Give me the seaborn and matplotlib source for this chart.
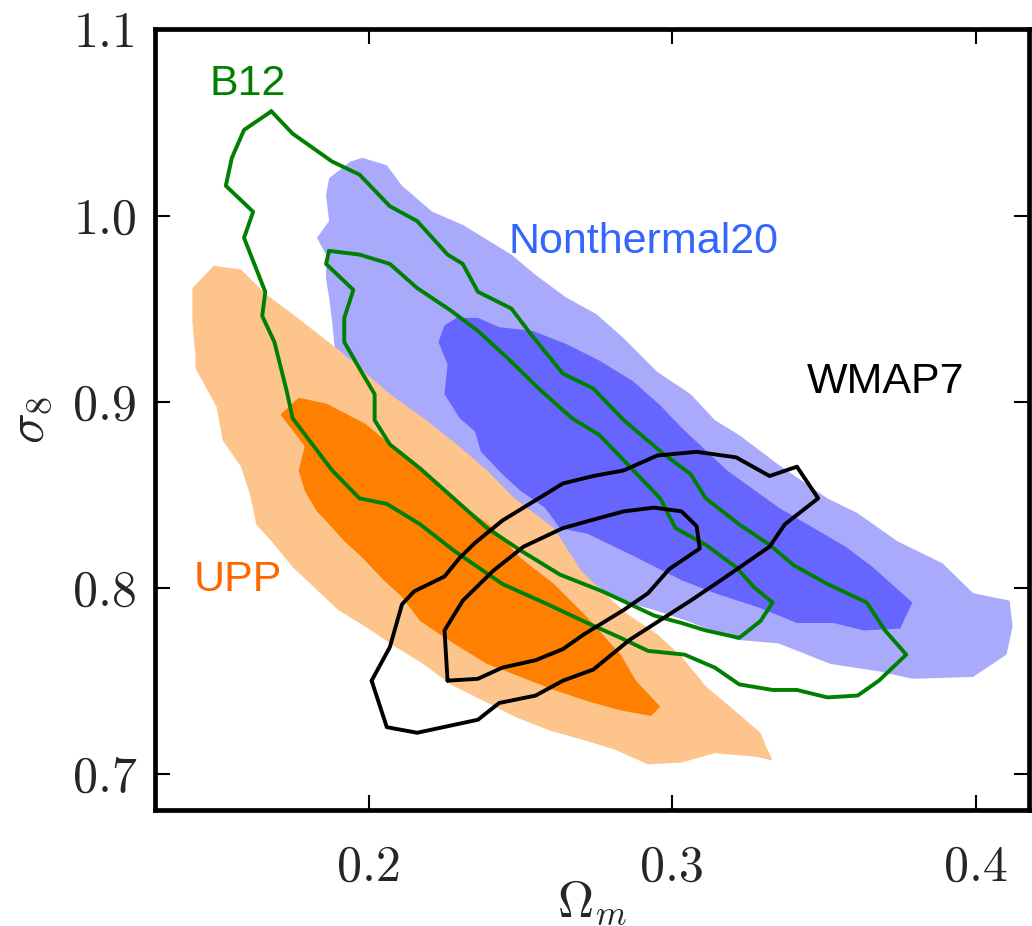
import matplotlib
matplotlib.use("Agg")
import matplotlib.pyplot as plt
import pandas as pd
import seaborn as sns

# Confidence regions in the (Omega_m, sigma_8) plane, as (Omega_m, sigma_8) vertices
nonthermal20_95 = [
    (0.187, 1.020), (0.194, 1.029), (0.198, 1.031), (0.206, 1.027), (0.211, 1.016),
    (0.221, 1.002), (0.231, 0.995), (0.238, 0.988), (0.247, 0.979), (0.255, 0.968),
    (0.265, 0.956), (0.275, 0.947), (0.284, 0.934), (0.295, 0.916), (0.306, 0.904),
    (0.314, 0.890), (0.322, 0.882), (0.335, 0.866), (0.351, 0.848), (0.361, 0.840),
    (0.374, 0.825), (0.389, 0.813), (0.399, 0.797), (0.411, 0.793), (0.412, 0.779),
    (0.410, 0.764), (0.399, 0.752), (0.379, 0.751), (0.368, 0.755), (0.352, 0.759),
    (0.335, 0.770), (0.321, 0.772), (0.305, 0.782), (0.294, 0.788), (0.283, 0.793),
    (0.270, 0.806), (0.261, 0.830), (0.239, 0.860), (0.219, 0.887), (0.207, 0.901),
    (0.189, 0.926), (0.188, 0.943), (0.187, 0.956), (0.186, 0.966), (0.186, 0.979),
    (0.183, 0.988), (0.187, 0.997), (0.186, 1.011),
]
nonthermal20_68 = [
    (0.223, 0.932), (0.225, 0.941), (0.229, 0.945), (0.236, 0.945), (0.243, 0.940),
    (0.254, 0.938), (0.265, 0.931), (0.276, 0.922), (0.287, 0.911), (0.296, 0.898),
    (0.303, 0.886), (0.318, 0.863), (0.335, 0.843), (0.357, 0.822), (0.366, 0.811),
    (0.379, 0.792), (0.375, 0.778), (0.363, 0.777), (0.353, 0.781), (0.341, 0.781),
    (0.329, 0.789), (0.314, 0.797), (0.303, 0.804), (0.286, 0.818), (0.272, 0.829),
    (0.263, 0.832), (0.258, 0.843), (0.250, 0.852), (0.244, 0.861), (0.237, 0.873),
    (0.235, 0.884), (0.230, 0.891), (0.225, 0.904), (0.226, 0.920),
]
upp_95 = [
    (0.149, 0.973), (0.158, 0.971), (0.166, 0.958), (0.175, 0.947), (0.190, 0.928),
    (0.207, 0.904), (0.219, 0.890), (0.229, 0.877), (0.239, 0.863), (0.248, 0.848),
    (0.261, 0.832), (0.270, 0.809), (0.277, 0.798), (0.285, 0.786), (0.295, 0.775),
    (0.303, 0.763), (0.311, 0.747), (0.319, 0.736), (0.329, 0.722), (0.331, 0.714),
    (0.333, 0.707), (0.328, 0.709), (0.314, 0.711), (0.303, 0.706), (0.292, 0.705),
    (0.281, 0.713), (0.271, 0.718), (0.260, 0.723), (0.249, 0.730), (0.238, 0.739),
    (0.227, 0.748), (0.218, 0.759), (0.209, 0.768), (0.199, 0.779), (0.190, 0.788),
    (0.175, 0.811), (0.168, 0.825), (0.163, 0.834), (0.161, 0.850), (0.158, 0.865),
    (0.152, 0.879), (0.150, 0.897), (0.147, 0.906), (0.143, 0.918), (0.143, 0.925),
    (0.142, 0.943), (0.142, 0.961),
]
upp_68 = [
    (0.171, 0.893), (0.177, 0.902), (0.186, 0.899), (0.199, 0.888), (0.210, 0.873),
    (0.221, 0.858), (0.232, 0.843), (0.241, 0.832), (0.250, 0.816), (0.261, 0.802),
    (0.272, 0.784), (0.283, 0.764), (0.288, 0.750), (0.296, 0.736), (0.293, 0.731),
    (0.283, 0.734), (0.272, 0.739), (0.261, 0.745), (0.250, 0.752), (0.239, 0.759),
    (0.228, 0.770), (0.217, 0.782), (0.211, 0.795), (0.205, 0.804), (0.198, 0.816),
    (0.192, 0.825), (0.187, 0.834), (0.183, 0.841), (0.179, 0.852), (0.177, 0.863),
    (0.179, 0.876),
]
b12_95 = [
    (0.168, 1.056), (0.175, 1.044), (0.188, 1.029), (0.197, 1.022), (0.207, 1.005),
    (0.216, 0.997), (0.226, 0.979), (0.231, 0.974), (0.236, 0.959), (0.247, 0.950),
    (0.254, 0.935), (0.264, 0.915), (0.274, 0.907), (0.284, 0.890), (0.297, 0.872),
    (0.306, 0.861), (0.311, 0.848), (0.322, 0.834), (0.332, 0.823), (0.340, 0.812),
    (0.351, 0.802), (0.364, 0.792), (0.370, 0.777), (0.377, 0.764), (0.368, 0.750),
    (0.361, 0.742), (0.351, 0.741), (0.341, 0.745), (0.333, 0.745), (0.322, 0.748),
    (0.314, 0.757), (0.304, 0.764), (0.292, 0.766), (0.283, 0.773), (0.272, 0.781),
    (0.259, 0.791), (0.244, 0.802), (0.228, 0.820), (0.217, 0.834), (0.206, 0.845),
    (0.197, 0.848), (0.188, 0.863), (0.175, 0.891), (0.173, 0.906), (0.169, 0.932),
    (0.165, 0.946), (0.166, 0.959), (0.159, 0.988), (0.162, 1.002), (0.153, 1.016),
    (0.155, 1.031), (0.159, 1.046),
]
b12_68 = [
    (0.187, 0.981), (0.197, 0.979), (0.207, 0.974), (0.216, 0.961), (0.227, 0.949),
    (0.236, 0.938), (0.246, 0.923), (0.256, 0.907), (0.267, 0.891), (0.276, 0.882),
    (0.286, 0.865), (0.296, 0.848), (0.301, 0.832), (0.311, 0.823), (0.321, 0.811),
    (0.327, 0.800), (0.333, 0.792), (0.329, 0.782), (0.322, 0.773), (0.311, 0.777),
    (0.303, 0.781), (0.294, 0.785), (0.277, 0.798), (0.263, 0.807), (0.250, 0.820),
    (0.239, 0.832), (0.228, 0.848), (0.217, 0.864), (0.207, 0.877), (0.202, 0.890),
    (0.202, 0.904), (0.198, 0.915), (0.192, 0.932), (0.192, 0.945), (0.195, 0.960),
    (0.186, 0.974),
]
wmap7_95 = [
    (0.201, 0.750), (0.207, 0.768), (0.211, 0.791), (0.215, 0.798), (0.225, 0.806),
    (0.230, 0.816), (0.235, 0.824), (0.244, 0.836), (0.253, 0.845), (0.264, 0.856),
    (0.274, 0.860), (0.284, 0.863), (0.295, 0.871), (0.308, 0.873), (0.321, 0.870),
    (0.332, 0.860), (0.341, 0.865), (0.348, 0.848), (0.337, 0.834), (0.332, 0.822),
    (0.316, 0.804), (0.306, 0.793), (0.286, 0.772), (0.274, 0.756), (0.264, 0.750),
    (0.255, 0.742), (0.243, 0.738), (0.236, 0.729), (0.216, 0.722), (0.206, 0.725),
]
wmap7_68 = [
    (0.226, 0.750), (0.225, 0.777), (0.231, 0.793), (0.241, 0.809), (0.251, 0.822),
    (0.264, 0.832), (0.275, 0.837), (0.284, 0.841), (0.294, 0.843), (0.303, 0.841),
    (0.308, 0.833), (0.309, 0.821), (0.299, 0.810), (0.292, 0.797), (0.284, 0.788),
    (0.271, 0.775), (0.264, 0.767), (0.255, 0.761), (0.244, 0.757), (0.236, 0.751),
]

xtick_values = [0.2, 0.3, 0.4]
xtick_labels = ["0.2", "0.3", "0.4"]
ytick_values = [0.7, 0.8, 0.9, 1.0, 1.1]
ytick_labels = ["0.7", "0.8", "0.9", "1.0", "1.1"]

# (text, Omega_m, sigma_8, colour)
annotations = [
    ("B12", 0.1478, 1.0649, "#008000"),
    ("Nonthermal20", 0.2460, 0.9798, "#3366ff"),
    ("WMAP7", 0.3443, 0.9047, "#000000"),
    ("UPP", 0.1423, 0.7984, "#ff6600"),
]

sns.set_style("ticks")
plt.rcParams["mathtext.fontset"] = "cm"
plt.rcParams["axes.formatter.use_mathtext"] = True


def closed(points):
    df = pd.DataFrame(points + points[:1], columns=["om", "s8"])
    df["order"] = range(len(df))
    return df


fig = plt.figure(figsize=(10.32, 9.26), dpi=100)
ax = fig.add_axes([0.1505, 0.1253, 0.8463, 0.8429])

filled = [
    (nonthermal20_95, "#aaaafc"),
    (nonthermal20_68, "#6666ff"),
    (upp_95, "#fdc48c"),
    (upp_68, "#ff8000"),
]
for pts, col in filled:
    df = closed(pts)
    ax.fill(df["om"], df["s8"], color=col, lw=0, zorder=1)

outlines = [
    (b12_95, "#008000"),
    (b12_68, "#008000"),
    (wmap7_95, "#000000"),
    (wmap7_68, "#000000"),
]
for pts, col in outlines:
    sns.lineplot(data=closed(pts), x="om", y="s8", sort=False, estimator=None,
                 color=col, ax=ax, legend=False, zorder=3)
for line in ax.lines:
    line.set_linewidth(2.8)
    line.set_solid_joinstyle("round")

for text, xo, yo, col in annotations:
    ax.text(xo, yo, text, color=col, fontsize=31, family="Liberation Sans",
            ha="left", va="baseline", zorder=4)

ax.set_xlim(0.1298, 0.4173)
ax.set_ylim(0.6805, 1.099)
ax.set_xticks(xtick_values)
ax.set_xticklabels(xtick_labels, fontfamily="cmr10", fontsize=36)
ax.set_yticks(ytick_values)
ax.set_yticklabels(ytick_labels, fontfamily="cmr10", fontsize=36)
ax.tick_params(direction="in", length=11, width=1.5, top=True, right=True,
               pad=13, color="black")
ax.tick_params(axis="x", pad=25)
for sp in ax.spines.values():
    sp.set_linewidth(3.4)
    sp.set_color("black")
ax.set_xlabel(r"$\Omega_m$", fontsize=36)
ax.xaxis.set_label_coords(0.5, -0.088)
ax.set_ylabel(r"$\sigma_8$", fontsize=37, labelpad=14)
ax.grid(False)

fig.savefig("out.png", dpi=100)
